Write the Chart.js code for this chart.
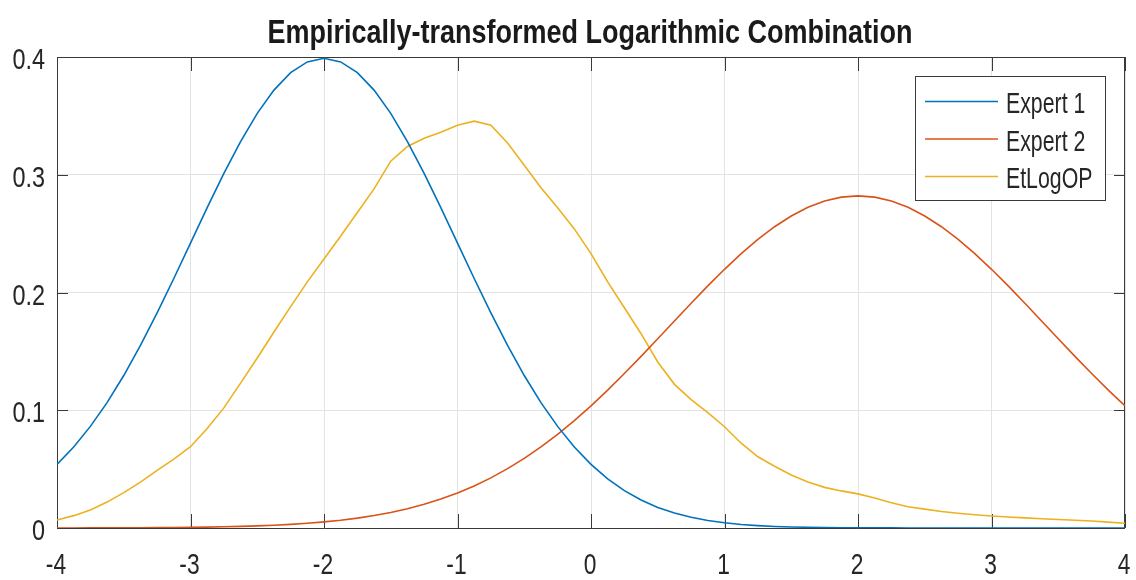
<!DOCTYPE html>
<html>
<head>
<meta charset="utf-8">
<script src="https://cdn.jsdelivr.net/npm/chart.js@4.4.1/dist/chart.umd.min.js"></script>
<style>
  html, body { margin: 0; padding: 0; background: #ffffff; }
  #wrap { width: 1136px; height: 580px; position: relative; }
</style>
</head>
<body>
<div id="wrap"><canvas id="c" width="1136" height="580"></canvas></div>
<script>
// Sample positions along the x axis
const xValues = [
  -4.000, -3.875, -3.750, -3.625, -3.500, -3.375, -3.250, -3.125,
  -3.000, -2.875, -2.750, -2.625, -2.500, -2.375, -2.250, -2.125,
  -2.000, -1.875, -1.750, -1.625, -1.500, -1.375, -1.250, -1.125,
  -1.000, -0.875, -0.750, -0.625, -0.500, -0.375, -0.250, -0.125,
   0.000,  0.125,  0.250,  0.375,  0.500,  0.625,  0.750,  0.875,
   1.000,  1.125,  1.250,  1.375,  1.500,  1.625,  1.750,  1.875,
   2.000,  2.125,  2.250,  2.375,  2.500,  2.625,  2.750,  2.875,
   3.000,  3.125,  3.250,  3.375,  3.500,  3.625,  3.750,  3.875,
   4.000
];

// Density of the first expert
const expert1 = [
  0.0540, 0.0688, 0.0863, 0.1065, 0.1295, 0.1550, 0.1827, 0.2119,
  0.2420, 0.2721, 0.3011, 0.3282, 0.3521, 0.3719, 0.3867, 0.3958,
  0.3989, 0.3958, 0.3867, 0.3719, 0.3521, 0.3282, 0.3011, 0.2721,
  0.2420, 0.2119, 0.1827, 0.1550, 0.1295, 0.1065, 0.0863, 0.0688,
  0.0540, 0.0417, 0.0317, 0.0238, 0.0175, 0.0127, 0.0091, 0.0064,
  0.0044, 0.0030, 0.0020, 0.0013, 0.0009, 0.0006, 0.0004, 0.0002,
  0.0001, 0.0001, 0.0001, 0.0000, 0.0000, 0.0000, 0.0000, 0.0000,
  0.0000, 0.0000, 0.0000, 0.0000, 0.0000, 0.0000, 0.0000, 0.0000,
  0.0000
];

// Density of the second expert
const expert2 = [
  0.00003, 0.00005, 0.00007, 0.00010, 0.00015, 0.00021, 0.00029, 0.00040,
  0.00054, 0.00074, 0.00100, 0.00134, 0.00179, 0.00236, 0.00309, 0.00401,
  0.00517, 0.00661, 0.00838, 0.01056, 0.01319, 0.01635, 0.02012, 0.02456,
  0.02973, 0.03572, 0.04259, 0.05039, 0.05913, 0.06886, 0.07957, 0.09123,
  0.10378, 0.11714, 0.13119, 0.14578, 0.16073, 0.17584, 0.19087, 0.20558,
  0.21970, 0.23295, 0.24509, 0.25585, 0.26500, 0.27235, 0.27772, 0.28099,
  0.28209, 0.28099, 0.27772, 0.27235, 0.26500, 0.25585, 0.24509, 0.23295,
  0.21970, 0.20558, 0.19087, 0.17584, 0.16073, 0.14578, 0.13119, 0.11714,
  0.10378
];

// Combined (EtLogOP) density
const etLogOP = [
  0.0068, 0.0105, 0.0153, 0.0220, 0.0300, 0.0390, 0.0490, 0.0585,
  0.0690, 0.0845, 0.1020, 0.1230, 0.1444, 0.1665, 0.1880, 0.2090,
  0.2285, 0.2480, 0.2680, 0.2880, 0.3115, 0.3240, 0.3310, 0.3360,
  0.3420, 0.3455, 0.3420, 0.3270, 0.3080, 0.2890, 0.2720, 0.2540,
  0.2330, 0.2090, 0.1870, 0.1650, 0.1410, 0.1220, 0.1090, 0.0980,
  0.0860, 0.0720, 0.0605, 0.0525, 0.0450, 0.0390, 0.0345, 0.0315,
  0.0290, 0.0255, 0.0215, 0.0180, 0.0160, 0.0140, 0.0125, 0.0112,
  0.0102, 0.0094, 0.0086, 0.0079, 0.0072, 0.0066, 0.0059, 0.0050,
  0.0040
];

const seriesNames = ['Expert 1', 'Expert 2', 'EtLogOP'];
const seriesColors = ['#0072BD', '#D95319', '#EDB120'];
const xTicks = [-4, -3, -2, -1, 0, 1, 2, 3, 4];
const xTickLabels = ['-4', '-3', '-2', '-1', '0', '1', '2', '3', '4'];
const yTicks = [0, 0.1, 0.2, 0.3, 0.4];
const yTickLabels = ['0', '0.1', '0.2', '0.3', '0.4'];
const titleText = 'Empirically-transformed Logarithmic Combination';

const FONT = "'Liberation Sans', Arial, sans-serif";
const TEXT_COLOR = '#262626';
const AXIS_COLOR = '#3a3a3a';

function toPoints(values) {
  return xValues.map((x, i) => ({ x: x, y: values[i] }));
}

// Text drawn with a horizontal squeeze, giving a narrow Helvetica look
function narrowText(ctx, text, x, y, align, squeeze) {
  ctx.save();
  ctx.translate(x, y);
  ctx.scale(squeeze, 1);
  ctx.textAlign = align;
  ctx.fillText(text, 0, 0);
  ctx.restore();
}

// Axes box, inward ticks, tick labels, legend and title
const figureDecor = {
  id: 'figureDecor',
  beforeDatasetsDraw(chart) {
    const { ctx, chartArea: a, scales } = chart;
    ctx.save();
    ctx.strokeStyle = AXIS_COLOR;
    ctx.lineWidth = 1;
    ctx.beginPath();
    ctx.rect(Math.round(a.left) + 0.5, Math.round(a.top) + 0.5,
             Math.round(a.right - a.left) - 1, Math.round(a.bottom - a.top));
    ctx.stroke();
    ctx.beginPath();
    scales.x.ticks.forEach(t => {
      const px = Math.round(scales.x.getPixelForValue(t.value)) + 0.5;
      ctx.moveTo(px, a.bottom); ctx.lineTo(px, a.bottom - 14);
      ctx.moveTo(px, a.top); ctx.lineTo(px, a.top + 14);
    });
    scales.y.ticks.forEach(t => {
      const py = Math.round(scales.y.getPixelForValue(t.value)) + 0.5;
      ctx.moveTo(a.left, py); ctx.lineTo(a.left + 11, py);
      ctx.moveTo(a.right, py); ctx.lineTo(a.right - 11, py);
    });
    ctx.stroke();

    // tick labels
    ctx.fillStyle = TEXT_COLOR;
    ctx.font = '30px ' + FONT;
    ctx.textBaseline = 'alphabetic';
    scales.x.ticks.forEach((t, i) => {
      const px = scales.x.getPixelForValue(t.value);
      narrowText(ctx, xTickLabels[i], px - 1, 573.5, 'center', 0.76);
    });
    scales.y.ticks.forEach((t, i) => {
      const py = scales.y.getPixelForValue(t.value);
      narrowText(ctx, yTickLabels[i], 45, py + 12, 'right', 0.78);
    });
    ctx.restore();
  },
  afterDraw(chart) {
    const { ctx } = chart;
    ctx.save();
    // legend
    const bx = 915.5, by = 76.5, bw = 190, bh = 124;
    ctx.fillStyle = '#ffffff';
    ctx.fillRect(bx, by, bw, bh);
    ctx.strokeStyle = AXIS_COLOR;
    ctx.lineWidth = 1;
    ctx.strokeRect(bx, by, bw, bh);
    const lineY = [101.5, 139, 176.5];
    const textY = [112.5, 150.5, 188.3];
    ctx.font = '30px ' + FONT;
    ctx.textBaseline = 'alphabetic';
    seriesNames.forEach((name, i) => {
      ctx.strokeStyle = seriesColors[i];
      ctx.lineWidth = 1.6;
      ctx.beginPath();
      ctx.moveTo(925, lineY[i]);
      ctx.lineTo(998, lineY[i]);
      ctx.stroke();
      ctx.fillStyle = TEXT_COLOR;
      narrowText(ctx, name, 1006, textY[i], 'left', 0.71);
    });
    // title, squeezed to its set width
    ctx.font = 'bold 33px ' + FONT;
    ctx.fillStyle = '#1a1a1a';
    const w = ctx.measureText(titleText).width;
    narrowText(ctx, titleText, 590, 43, 'center', 645 / w);
    ctx.restore();
  }
};

new Chart(document.getElementById('c'), {
  type: 'line',
  data: {
    datasets: [
      { label: seriesNames[0], data: toPoints(expert1), borderColor: seriesColors[0] },
      { label: seriesNames[1], data: toPoints(expert2), borderColor: seriesColors[1] },
      { label: seriesNames[2], data: toPoints(etLogOP), borderColor: seriesColors[2] }
    ]
  },
  options: {
    responsive: false,
    animation: false,
    devicePixelRatio: 1,
    layout: { padding: { left: 0, right: 11, top: 57, bottom: 0 } },
    elements: {
      point: { radius: 0 },
      line: { borderWidth: 1.6, tension: 0, fill: false }
    },
    plugins: { legend: { display: false }, title: { display: false }, tooltip: { enabled: false } },
    scales: {
      x: {
        type: 'linear', min: -4, max: 4,
        afterFit(s) { s.height = 52; s.paddingLeft = 0; s.paddingRight = 0; },
        afterBuildTicks(s) { s.ticks = xTicks.map(v => ({ value: v })); },
        grid: { color: '#e3e3e3', lineWidth: 1, drawTicks: false },
        border: { display: false },
        ticks: { display: false }
      },
      y: {
        type: 'linear', min: 0, max: 0.4,
        afterFit(s) { s.width = 57; s.paddingTop = 0; s.paddingBottom = 0; },
        afterBuildTicks(s) { s.ticks = yTicks.map(v => ({ value: v })); },
        grid: { color: '#e3e3e3', lineWidth: 1, drawTicks: false },
        border: { display: false },
        ticks: { display: false }
      }
    }
  },
  plugins: [figureDecor]
});
</script>
</body>
</html>
